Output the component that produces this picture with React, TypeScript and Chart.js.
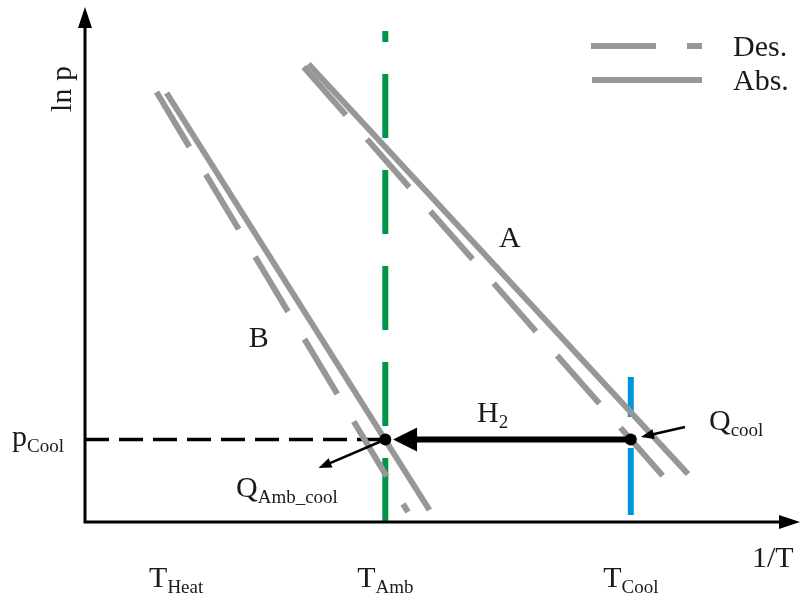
import React, { useEffect, useRef } from "react";
import { Chart, registerables } from "chart.js";

Chart.register(...registerables);

const SERIF = '"Liberation Serif", "Times New Roman", serif';
const GRAY = "#979797";
const GREEN = "#00954a";
const BLUE = "#0096db";

// Isotherm end points, x = 1/T, y = ln p (arbitrary units)
const absA = [{ x: 37.5, y: 91.6 }, { x: 101.2, y: 9.6 }];
const desA = [{ x: 36.7, y: 91.0 }, { x: 97.0, y: 9.2 }];
const absB = [{ x: 13.7, y: 85.8 }, { x: 57.8, y: 2.4 }];
const desB = [{ x: 12.0, y: 86.0 }, { x: 54.2, y: 2.0 }];

// Reference temperatures (as 1/T) and the cooling pressure (as ln p)
const tempNames = ["Heat", "Amb", "Cool"];
const tempValues = [15.3, 50.4, 91.6];
const pCool = 16.5;

// Vertical extent of the temperature markers (ln p)
const ambSpan = [0, 98.2];
const coolSpan = [1.4, 29.0];

// Heat flow arrows: [tail, tip]
const qCoolArrow = [{ x: 100.7, y: 19.0 }, { x: 93.3, y: 17.0 }];
const qAmbArrow = [{ x: 50.4, y: 16.5 }, { x: 39.2, y: 10.8 }];
const h2Tip = 51.7;

// Text
const curveNames = ["A", "B"];
const curveLabelPos = [{ x: 69.5, y: 55 }, { x: 27.5, y: 35 }];
const legendNames = ["Des.", "Abs."];
const axisTitles = ["ln p", "1/T"];

const X_MAX = 120;
const Y_MAX = 100;

function arrowHead(ctx: CanvasRenderingContext2D, fx: number, fy: number, tx: number, ty: number, len: number, half: number) {
  const ang = Math.atan2(ty - fy, tx - fx);
  const bx = tx - Math.cos(ang) * len;
  const by = ty - Math.sin(ang) * len;
  const nx = -Math.sin(ang) * half;
  const ny = Math.cos(ang) * half;
  ctx.beginPath();
  ctx.moveTo(tx, ty);
  ctx.lineTo(bx + nx, by + ny);
  ctx.lineTo(bx - nx, by - ny);
  ctx.closePath();
  ctx.fill();
}

function subLabel(ctx: CanvasRenderingContext2D, main: string, sub: string, x: number, y: number, align: "left" | "center" = "left") {
  ctx.textAlign = "left";
  ctx.textBaseline = "alphabetic";
  ctx.font = `30px ${SERIF}`;
  const wm = ctx.measureText(main).width;
  ctx.font = `19px ${SERIF}`;
  const ws = sub ? ctx.measureText(sub).width : 0;
  const left = align === "center" ? x - (wm + ws) / 2 : x;
  ctx.font = `30px ${SERIF}`;
  ctx.fillText(main, left, y);
  if (sub) {
    ctx.font = `19px ${SERIF}`;
    ctx.fillText(sub, left + wm, y + 6);
  }
}

const schematicPlugin = {
  id: "schematic",
  afterDatasetsDraw(chart: any) {
    const { ctx, chartArea: a } = chart;
    const xs = chart.scales.x;
    const ys = chart.scales.y;
    const px = (v: number) => xs.getPixelForValue(v);
    const py = (v: number) => ys.getPixelForValue(v);
    ctx.save();
    ctx.fillStyle = "#000";
    ctx.strokeStyle = "#000";

    // Axes with arrow heads
    ctx.lineWidth = 3;
    ctx.lineCap = "butt";
    ctx.beginPath();
    ctx.moveTo(a.left, a.top - 10);
    ctx.lineTo(a.left, a.bottom);
    ctx.lineTo(a.right - 12, a.bottom);
    ctx.stroke();
    arrowHead(ctx, a.left, a.bottom, a.left, a.top - 15, 21, 7);
    arrowHead(ctx, a.left, a.bottom, a.right, a.bottom, 21, 7);

    // H2 transfer arrow
    const yP = py(pCool);
    const tipX = px(h2Tip);
    ctx.lineWidth = 6;
    ctx.beginPath();
    ctx.moveTo(px(tempValues[2]), yP);
    ctx.lineTo(tipX + 18, yP);
    ctx.stroke();
    arrowHead(ctx, px(tempValues[2]), yP, tipX, yP, 24, 12);

    // Heat flow arrows
    ctx.lineWidth = 2.5;
    for (const [t, h] of [qCoolArrow, qAmbArrow]) {
      const fx = px(t.x), fy = py(t.y), tx = px(h.x), ty = py(h.y);
      const ang = Math.atan2(ty - fy, tx - fx);
      ctx.beginPath();
      ctx.moveTo(fx, fy);
      ctx.lineTo(tx - Math.cos(ang) * 8, ty - Math.sin(ang) * 8);
      ctx.stroke();
      arrowHead(ctx, fx, fy, tx, ty, 13, 5);
    }

    // Legend
    const legY = [46, 80];
    ctx.strokeStyle = GRAY;
    ctx.lineWidth = 6;
    ctx.setLineDash([65, 31]);
    ctx.beginPath();
    ctx.moveTo(591, legY[0]);
    ctx.lineTo(702, legY[0]);
    ctx.stroke();
    ctx.setLineDash([]);
    ctx.beginPath();
    ctx.moveTo(592, legY[1]);
    ctx.lineTo(702, legY[1]);
    ctx.stroke();
    ctx.fillStyle = "#1a1a1a";
    ctx.font = `30px ${SERIF}`;
    ctx.textAlign = "left";
    ctx.textBaseline = "alphabetic";
    ctx.fillText(legendNames[0], 733, legY[0] + 10);
    ctx.fillText(legendNames[1], 733, legY[1] + 10);

    // Curve names
    curveNames.forEach((n, i) => {
      ctx.fillText(n, px(curveLabelPos[i].x), py(curveLabelPos[i].y));
    });

    // Axis titles
    ctx.save();
    ctx.translate(71, 89);
    ctx.rotate(-Math.PI / 2);
    ctx.textAlign = "center";
    ctx.fillText(axisTitles[0], 0, 0);
    ctx.restore();
    ctx.textAlign = "left";
    ctx.fillText(axisTitles[1], 752, 567);

    // Temperature tick labels
    tempNames.forEach((n, i) => subLabel(ctx, "T", n, px(tempValues[i]), 587, "center"));

    // Other annotations
    subLabel(ctx, "p", "Cool", 12, yP + 6);
    subLabel(ctx, "H", "2", 477, 422);
    subLabel(ctx, "Q", "cool", 709, 430);
    subLabel(ctx, "Q", "Amb_cool", 236, 497);

    ctx.restore();
  },
};

export default function App() {
  const ref = useRef<HTMLCanvasElement>(null);

  useEffect(() => {
    if (!ref.current) return;
    const line = (data: any[], color: string, width: number, dash: number[], order: number) => ({
      data,
      showLine: true,
      borderColor: color,
      borderWidth: width,
      borderDash: dash,
      borderCapStyle: "butt",
      pointRadius: 0,
      fill: false,
      order,
    });
    const tAmb = tempValues[1];
    const tCool = tempValues[2];
    const chart = new Chart(ref.current, {
      type: "scatter",
      data: {
        datasets: [
          line([{ x: tAmb, y: ambSpan[0] }, { x: tAmb, y: ambSpan[1] }], GREEN, 6, [64, 32], 6),
          line([{ x: tCool, y: coolSpan[0] }, { x: tCool, y: coolSpan[1] }], BLUE, 6, [67, 31], 6),
          line([{ x: 0, y: pCool }, { x: tAmb, y: pCool }], "#000", 3.5, [24, 10], 5),
          line(absA, GRAY, 6, [], 3),
          line(desA, GRAY, 6, [64, 32], 3),
          line(absB, GRAY, 6, [], 3),
          line(desB, GRAY, 6, [64, 32], 3),
          {
            data: [{ x: tAmb, y: pCool }, { x: tCool, y: pCool }],
            showLine: false,
            pointRadius: 6,
            pointBackgroundColor: "#000",
            pointBorderWidth: 0,
            order: 1,
          } as any,
        ] as any,
      },
      options: {
        responsive: false,
        animation: false,
        events: [],
        layout: { padding: { left: 85, right: 1, top: 22, bottom: 74 } },
        plugins: { legend: { display: false }, tooltip: { enabled: false } },
        scales: {
          x: { type: "linear", min: 0, max: X_MAX, display: false },
          y: { type: "linear", min: 0, max: Y_MAX, display: false },
        },
      },
      plugins: [schematicPlugin],
    });
    return () => chart.destroy();
  }, []);

  return (
    <div style={{ position: "fixed", left: 0, top: 0, width: 806, height: 596, background: "#fff" }}>
      <canvas ref={ref} width={806} height={596} style={{ display: "block" }} />
    </div>
  );
}
